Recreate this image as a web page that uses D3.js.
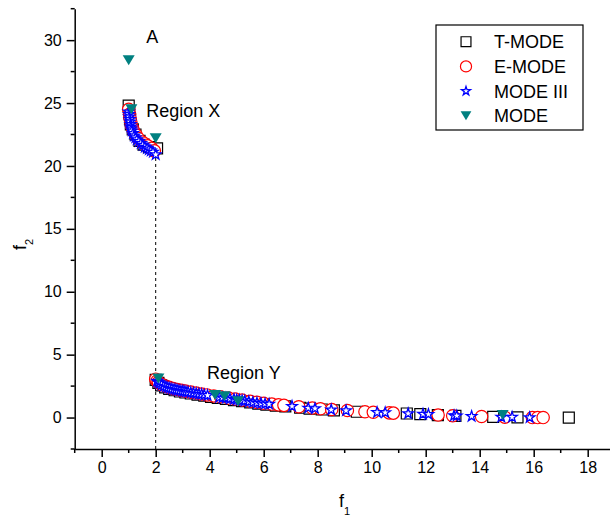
<!DOCTYPE html>
<html>
<head>
<meta charset="utf-8">
<script src="https://cdn.jsdelivr.net/npm/d3@7"></script>
<style>
  body { margin: 0; background: #fff; }
  svg { font-family: Arial, "Liberation Sans", sans-serif; }
</style>
</head>
<body>
<svg id="chart"></svg>
<script>
// [f1, f2] pairs
const tMode = [
  [1.0, 24.8], [1.02, 24.2], [1.05, 23.7], [1.08, 23.3], [1.15, 22.9], [1.25, 22.5],
  [1.4, 22.0], [1.55, 21.7], [1.75, 21.5], [2.05, 21.4],
  [2.0, 3.0], [2.1, 2.75], [2.2, 2.55], [2.35, 2.4], [2.5, 2.28], [2.7, 2.17],
  [2.9, 2.07], [3.1, 1.99], [3.3, 1.91], [3.55, 1.82], [3.8, 1.74], [4.05, 1.65],
  [4.3, 1.57], [4.6, 1.48], [4.9, 1.39], [5.2, 1.3], [5.5, 1.2], [5.8, 1.1],
  [6.1, 1.03], [6.45, 0.95], [6.8, 0.89], [7.35, 0.78], [7.7, 0.71], [8.15, 0.64],
  [8.6, 0.57], [9.45, 0.46], [11.3, 0.32], [11.8, 0.28], [12.45, 0.2],
  [13.1, 0.13], [14.5, 0.05], [15.4, 0.02], [17.3, 0.0]
];
const eMode = [
  [1.0, 24.5], [1.03, 24.1], [1.05, 23.8], [1.08, 23.5], [1.1, 23.2], [1.15, 22.95],
  [1.2, 22.7], [1.28, 22.45], [1.35, 22.2], [1.5, 21.9], [1.6, 21.75], [1.7, 21.6],
  [1.85, 21.4], [1.95, 21.2],
  [2.0, 3.05], [2.05, 2.9], [2.1, 2.8], [2.18, 2.67], [2.25, 2.6], [2.38, 2.49],
  [2.5, 2.4], [2.65, 2.3], [2.8, 2.23], [2.95, 2.16], [3.1, 2.1], [3.3, 2.02],
  [3.5, 1.95], [3.7, 1.87], [3.9, 1.8], [4.15, 1.72], [4.4, 1.65], [4.7, 1.55],
  [4.95, 1.47], [5.2, 1.39], [5.5, 1.29], [5.75, 1.21], [6.0, 1.14], [6.3, 1.07],
  [6.55, 1.01], [6.75, 0.97], [7.3, 0.86], [7.8, 0.76], [8.1, 0.7], [8.52, 0.64],
  [9.1, 0.56], [9.75, 0.46], [10.06, 0.42], [10.65, 0.37], [10.8, 0.35],
  [12.46, 0.2], [13.0, 0.14], [14.07, 0.08], [14.93, 0.03], [15.95, 0.0],
  [16.15, 0.0], [16.35, 0.0]
];
const modeIII = [
  [1.0, 24.3], [1.01, 24.1], [1.02, 23.9], [1.04, 23.7], [1.05, 23.5], [1.07, 23.3],
  [1.08, 23.1], [1.1, 22.95], [1.12, 22.8], [1.16, 22.6], [1.2, 22.4], [1.25, 22.25],
  [1.3, 22.1], [1.38, 21.95], [1.45, 21.8], [1.52, 21.65], [1.6, 21.5], [1.68, 21.4],
  [1.75, 21.3], [1.82, 21.2], [1.9, 21.1], [2.0, 20.9],
  [2.05, 2.9], [2.1, 2.8], [2.15, 2.7], [2.22, 2.6], [2.3, 2.5], [2.38, 2.44],
  [2.45, 2.38], [2.52, 2.33], [2.6, 2.28], [2.68, 2.24], [2.75, 2.2], [2.82, 2.17],
  [2.9, 2.14], [2.98, 2.11], [3.05, 2.08], [3.12, 2.05], [3.2, 2.02], [3.3, 1.98],
  [3.4, 1.95], [3.5, 1.91], [3.6, 1.87], [3.7, 1.84], [3.8, 1.8], [3.92, 1.76],
  [4.35, 1.6], [4.47, 1.57], [4.6, 1.54], [4.75, 1.49], [4.9, 1.45], [5.0, 1.41],
  [5.1, 1.38], [5.2, 1.35], [5.3, 1.32], [5.45, 1.26], [5.6, 1.2], [5.75, 1.16],
  [5.9, 1.12], [6.05, 1.09], [6.2, 1.06], [7.05, 0.9], [7.65, 0.76], [7.9, 0.72],
  [8.5, 0.62], [9.05, 0.55], [10.2, 0.41], [10.5, 0.39], [11.35, 0.32], [11.9, 0.28],
  [12.1, 0.26], [13.05, 0.15], [13.15, 0.14], [13.7, 0.1], [14.8, 0.04], [15.2, 0.03],
  [15.85, 0.0]
];
const mode = [
  [1.0, 28.4], [1.1, 24.5], [2.0, 22.2], [2.1, 3.1], [4.2, 1.8], [4.55, 1.7],
  [5.05, 1.3], [14.85, 0.2]
];

const xMajor = [0, 2, 4, 6, 8, 10, 12, 14, 16, 18];
const xMinor = [-1, 1, 3, 5, 7, 9, 11, 13, 15, 17, 19];
const yMajor = [0, 5, 10, 15, 20, 25, 30];
const yMinor = [-2.5, 2.5, 7.5, 12.5, 17.5, 22.5, 27.5, 32.5];

const legendNames = ["T-MODE", "E-MODE", "MODE III", "MODE"];
const notes = [
  {text: "A", f1: 1.65, f2: 29.8},
  {text: "Region X", f1: 1.65, f2: 23.9},
  {text: "Region Y", f1: 3.9, f2: 3.1}
];

const W = 610, H = 521;
const svg = d3.select("#chart").attr("width", W).attr("height", H);

const x = d3.scaleLinear().domain([-1, 19]).range([74.7, 614.7]);
const y = d3.scaleLinear().domain([-2.5, 32.5]).range([449, 8.7]);

// marker shapes
const squarePath = d3.symbol(d3.symbolSquare, 121)();
const circlePath = d3.symbol(d3.symbolCircle, 120)();
const starPath = d3.symbol(d3.symbolStar, 34)();
const triPath = "M-6,-5L6,-5L0,5Z";

const styles = [
  {path: squarePath, fill: "#fff", stroke: "#000", sw: 1.2},
  {path: circlePath, fill: "#fff", stroke: "#ff0000", sw: 1.2},
  {path: starPath, fill: "#fff", stroke: "#0000ff", sw: 1.3},
  {path: triPath, fill: "#008080", stroke: "none", sw: 0}
];

// axes
const xAxisG = svg.append("g").attr("transform", `translate(0,${y(-2.5)})`);
xAxisG.call(d3.axisBottom(x).tickValues(xMajor).tickSize(8).tickSizeOuter(0).tickPadding(5));
xAxisG.selectAll(".tick text").style("font-size", "16px").attr("fill", "#000");
xAxisG.selectAll(".tick line").attr("stroke-width", 1.5);
xAxisG.select(".domain").attr("stroke-width", 1.5);
xAxisG.selectAll(".minor").data(xMinor).join("line")
  .attr("class", "minor")
  .attr("x1", d => x(d)).attr("x2", d => x(d))
  .attr("y1", 0).attr("y2", 4)
  .attr("stroke", "#000").attr("stroke-width", 1.5);

const yAxisG = svg.append("g").attr("transform", `translate(${x(-1)},0)`);
yAxisG.call(d3.axisLeft(y).tickValues(yMajor).tickSize(8).tickSizeOuter(0).tickPadding(5));
yAxisG.selectAll(".tick text").style("font-size", "16px").attr("fill", "#000");
yAxisG.selectAll(".tick line").attr("stroke-width", 1.5);
yAxisG.select(".domain").attr("stroke-width", 1.5);
yAxisG.selectAll(".minor").data(yMinor).join("line")
  .attr("class", "minor")
  .attr("x1", 0).attr("x2", -4)
  .attr("y1", d => y(d)).attr("y2", d => y(d))
  .attr("stroke", "#000").attr("stroke-width", 1.5);

// axis titles
const xt = svg.append("text").attr("x", 339).attr("y", 507).style("font-size", "18px");
xt.append("tspan").text("f");
xt.append("tspan").attr("dy", 8).style("font-size", "11px").text("1");

const yt = svg.append("text")
  .attr("transform", "translate(26,250) rotate(-90)")
  .style("font-size", "18px");
yt.append("tspan").text("f");
yt.append("tspan").attr("dy", 7).style("font-size", "11px").text("2");

// dashed separator at f1 = 2
svg.append("line")
  .attr("x1", x(2)).attr("x2", x(2))
  .attr("y1", y(-2.5)).attr("y2", y(21.3))
  .attr("stroke", "#000").attr("stroke-width", 1)
  .attr("stroke-dasharray", "3,3");

// data series
[tMode, eMode, modeIII, mode].forEach((series, i) => {
  const st = styles[i];
  svg.append("g").selectAll("path").data(series).join("path")
    .attr("d", st.path)
    .attr("transform", d => `translate(${x(d[0])},${y(d[1])})`)
    .attr("fill", st.fill)
    .attr("stroke", st.stroke)
    .attr("stroke-width", st.sw);
});

// annotations
svg.append("g").selectAll("text").data(notes).join("text")
  .attr("x", d => x(d.f1)).attr("y", d => y(d.f2))
  .style("font-size", "18px")
  .text(d => d.text);

// legend
const lg = svg.append("g");
lg.append("rect")
  .attr("x", 436).attr("y", 25).attr("width", 147).attr("height", 105)
  .attr("fill", "#fff").attr("stroke", "#000").attr("stroke-width", 1.2);
legendNames.forEach((name, i) => {
  const cy = 41.7 + i * 24.7;
  const st = styles[i];
  const sc = i === 2 ? 0.85 : 0.9;
  lg.append("path")
    .attr("d", st.path)
    .attr("transform", `translate(466,${cy}) scale(${sc})`)
    .attr("fill", st.fill).attr("stroke", st.stroke).attr("stroke-width", st.sw / sc);
  lg.append("text")
    .attr("x", 494).attr("y", cy + 6.5)
    .style("font-size", "18px")
    .text(name);
});
</script>
</body>
</html>
